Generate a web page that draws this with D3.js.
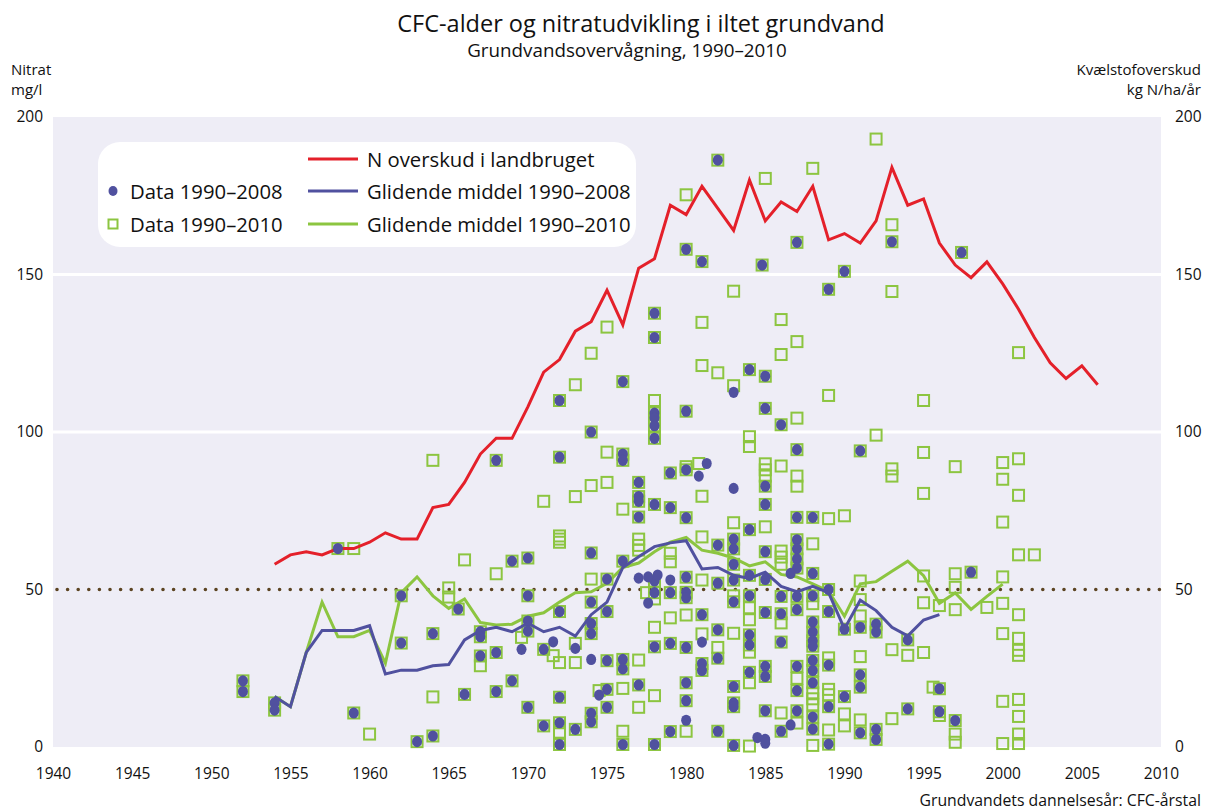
<!DOCTYPE html>
<html>
<head>
<meta charset="utf-8">
<script src="https://cdn.jsdelivr.net/npm/d3@7"></script>
<style>
  body { margin: 0; background: #fff; }
  text { font-family: "Open Sans", "Noto Sans", sans-serif; fill: #111; }
</style>
</head>
<body>
<svg id="chart" width="1215" height="810"></svg>
<script>
// N surplus in agriculture (kg N/ha/yr), one value per year from 1954
var surplusStart = 1954;
var surplus = [58,61,62,61,63,63,65,68,66,66, 76,77,84,93,98,98,108,119,123,132,
               135,145,134,152,155,172,169,178,171,164, 180,167,173,170,178,161,163,160,167,184,
               172,174,160,153,149,154,147,139,130,122, 117,121,115];

// moving averages (mg/l), one value per year from 1954
var maStart = 1954;
var ma2010 = [16,12.8,30,46,35,35,37,26.6,49,54, 48,44,47,39.5,38.7,39,41.5,42.6,46,49,
              49.3,52,57,58.4,62,65,66.5,62.5,61.5,60, 57.5,58.8,54.8,54,51.8,49.5,41.5,51.8,52.5,55.8,
              59,54.4,45.6,48.9,43.7,47.8,51.7];
var ma2008 = [16,12.8,30,37,37,37,38.5,23.2,24.4,24.4, 25.8,26.2,34,37,38,36.6,39.3,36.6,38,35.2,
              42,46,57,60.4,63.6,64.8,65.5,56.5,57,54.5, 53.5,55.5,51,49.3,51,49,37.5,46.6,43.3,38,
              35.3,40.3,42];

// samples found in both data sets [CFC year, nitrate]
var bothPts = [
  [1952,21],[1952,17.6],[1954,14],[1954,11.7],[1958,63],[1959,10.8],
  [1962,48],[1962,33],[1963,1.7],[1964,36],[1964,3.5],[1965.6,43.8],[1966,16.7],
  [1967,36.6],[1967,35],[1967,28.9],[1968,91],[1968,30],[1968,17.6],[1969,59],[1969,21],
  [1970,60],[1970,48],[1970,40],[1970,36.8],[1970,12.6],[1971,31],[1971,6.7],
  [1972,110],[1972,92],[1972,43],[1972,15.8],[1972,7.7],[1972,0.8],[1973,5.6],
  [1974,100],[1974,61.6],[1974,46],[1974,39.2],[1974,36],[1974,10.7],[1974,8],
  [1975,53.3],[1975,43],[1975,27.4],[1975,18.3],[1975,12.6],
  [1976,116],[1976,93],[1976,91],[1976,59],[1976,27.8],[1976,24.8],[1976,0.8],
  [1977,84],[1977,79.5],[1977,78],[1977,73],[1977,19.7],
  [1978,137.7],[1978,130],[1978,106],[1978,104.5],[1978,102],[1978,98],[1978,77],[1978,52.7],[1978,49],[1978,31.8],[1978,0.8],
  [1979,87],[1979,76],[1979,49],[1979,32.9],[1979,4.9],
  [1980,158],[1980,106.6],[1980,88],[1980,72.8],[1980,53.9],[1980,49.1],[1980,47.4],[1980,31.6],[1980,20.4],[1980,14.7],
  [1981,154.1],[1981,42],[1981,26.5],[1981,24.3],
  [1982,186.3],[1982,64.1],[1982,52],[1982,37.2],[1982,28.2],[1982,5],
  [1983,66],[1983,62.9],[1983,58],[1983,53],[1983,46.1],[1983,19.2],[1983,14],[1983,12.8],[1983,0.5],
  [1984,119.8],[1984,69],[1984,54.5],[1984,48],[1984,35.6],[1984,32.4],[1984,23.7],
  [1984.8,153],[1985,117.7],[1985,107.5],[1985,82.8],[1985,77],[1985,62],[1985,53.2],[1985,42.7],[1985,25.6],[1985,22.4],[1985,11.5],
  [1986,102.3],[1986,47.8],[1986,42.3],[1986,33.3],[1986,5],
  [1987,160.2],[1987,94.4],[1987,72.9],[1987,65.8],[1987,62.9],[1987,59.7],[1987,56.8],[1987,47.8],[1987,43.6],[1987,25.6],[1987,17.9],[1987,11.5],
  [1988,72.9],[1988,55.1],[1988,48],[1988,39.7],[1988,36.5],[1988,33.7],[1988,32],[1988,27.5],[1988,24.3],[1988,20.4],[1988,9.5],[1988,5.7],
  [1989,145.3],[1989,50],[1989,43],[1989,26],[1989,12.8],[1989,0.9],
  [1990,151],[1990,37.4],[1990,16],[1991,94],[1991,38],[1991,22.9],[1991,19],[1991,4.5],
  [1992,39],[1992,36.5],[1992,5.6],[1992,2.4],[1993,160.4],[1994,34],[1994,12.1],
  [1996,18.5],[1996,11.2],[1997,8.4],[1997.4,157],[1998,55.5]
];

// samples only in 1990-2008 set (dot without square)
var dotPts = [
  [1969.6,31],[1971.6,33.4],[1973,31.3],[1974,27.8],[1974.5,16.5],[1977,53.6],[1977.6,54],
  [1978.2,54.6],[1977.6,45.7],[1979,53],[1980.8,86],[1980,8.5],[1981.3,90],[1981,33.3],
  [1983,112.6],[1983,82.1],[1984.5,3],[1985,2.4],[1985,1.2],[1986.6,55.1],[1986.6,7]
];

// samples only in 1990-2010 set (square without dot)
var squarePts = [
  [1959,63],[1960,4.1],[1964,91],[1964,15.9],[1965,50.5],[1965,47.6],[1966,59.4],[1967,25.8],[1968,55],
  [1969.6,34.8],[1971,78],[1971.6,29],[1972,67],[1972,66],[1972,65],[1972,26.8],[1972,4.7],
  [1973,115],[1973,79.5],[1973,32.9],[1973,26.8],[1974,125],[1974,83],[1974,53.3],[1974.5,17.9],
  [1975,133.3],[1975,93.6],[1975,84],[1976,75.5],[1976,18.6],[1976,5],
  [1977,66],[1977,64],[1977,62.5],[1977,27.6],[1977,12.6],[1977.5,49],
  [1978,110],[1978,47],[1978,38],[1978,16.3],[1979,61.5],[1979,58.8],[1979,41],
  [1980,175.3],[1980,89],[1980,41.9],[1980,5],[1980.8,90],
  [1981,134.8],[1981,121.1],[1981,79.6],[1981,66.7],[1981,53],[1981,35.9],[1982,118.8],[1982,31.6],
  [1983,144.7],[1983,114.7],[1983,71.2],[1983,48],[1983,36.1],
  [1984,98.5],[1984,95.4],[1984,44.2],[1984,40.4],[1984,30.1],[1984,20.4],[1984,0.3],
  [1985,180.5],[1985,89.9],[1985,88],[1985,86],[1985,69.9],
  [1986,135.7],[1986,124.6],[1986,89.2],[1986,62.2],[1986,60.3],[1986,58],[1986,39.4],[1986,10.8],
  [1987,128.7],[1987,104.4],[1987,86],[1987,82.8],[1987,21.8],[1987,7.6],
  [1988,183.7],[1988,64.5],[1988,45.5],[1988,17.2],[1988,15.3],[1988,13.4],[1988,0.5],
  [1989,111.6],[1989,72.5],[1989,28.3],[1989,18.3],[1989,16.6],[1989,5.4],
  [1990,73.4],[1990,10.5],[1990,6.7],[1991,52.7],[1991,46.8],[1991,41.6],[1991,28.7],[1991,8.6],
  [1992,193],[1992,99],[1993,165.8],[1993,144.6],[1993,88.3],[1993,86],[1993,30.9],[1993,9],[1994,29.1],
  [1995,110],[1995,93.5],[1995,80.5],[1995,54.3],[1995,45.8],[1995,30],[1995.6,19],[1996,44.9],[1996,10],
  [1997,89],[1997,55],[1997,50.7],[1997,43.6],[1997,4.1],[1997,1.5],[1999,44.3],
  [2000,90.3],[2000,85],[2000,71.4],[2000,54],[2000,45.6],[2000,36],[2000,14.5],[2000,1.1],
  [2001,125.2],[2001,91.5],[2001,79.9],[2001,61],[2001,42],[2001,34.5],[2001,30.7],[2001,29.1],[2001,15.1],[2001,9.7],[2001,4.1],[2001,1.1],
  [2002,61]
];

var xTicks = [1940,1945,1950,1955,1960,1965,1970,1975,1980,1985,1990,1995,2000,2005,2010];
var yTicks = [0,50,100,150,200];

(function(){
  var RED = "#e4202a", BLUE = "#50519f", GREEN = "#8cc540", BG = "#eeedf6";

  var svg = d3.select("#chart");
  var pLeft = 53, pRight = 1161, pTop = 117, pBottom = 747;

  var x = d3.scaleLinear().domain([1940, 2010]).range([pLeft, pRight]);
  var y = d3.scaleLinear().domain([0, 200]).range([pBottom, pTop]);

  // titles
  svg.append("text").attr("x", 641).attr("y", 32).attr("text-anchor", "middle")
     .style("font-size", "23.5px").text("CFC-alder og nitratudvikling i iltet grundvand");
  svg.append("text").attr("x", 627).attr("y", 57).attr("text-anchor", "middle")
     .style("font-size", "18.8px").text("Grundvandsovervågning, 1990–2010");

  svg.append("text").attr("x", 11).attr("y", 75).style("font-size", "15px").text("Nitrat");
  svg.append("text").attr("x", 11).attr("y", 95).style("font-size", "15px").text("mg/l");
  svg.append("text").attr("x", 1201).attr("y", 75).attr("text-anchor", "end").style("font-size", "15px").text("Kvælstofoverskud");
  svg.append("text").attr("x", 1201).attr("y", 95).attr("text-anchor", "end").style("font-size", "15px").text("kg N/ha/år");

  // plot background
  svg.append("rect").attr("x", pLeft).attr("y", pTop)
     .attr("width", pRight - pLeft).attr("height", pBottom - pTop).attr("fill", BG);

  // white gridlines at 100 and 150
  svg.selectAll(".grid").data([100, 150]).enter().append("line")
     .attr("x1", pLeft).attr("x2", pRight).attr("y1", d => y(d)).attr("y2", d => y(d))
     .attr("stroke", "#fff").attr("stroke-width", 3);

  // dotted 50 line
  svg.append("line").attr("x1", pLeft + 4).attr("x2", pRight).attr("y1", y(50)).attr("y2", y(50))
     .attr("stroke", "#5c4422").attr("stroke-width", 3.6).attr("stroke-linecap", "round")
     .attr("stroke-dasharray", "0 10.6");

  // axes labels
  var yAxisL = d3.axisLeft(y).tickValues(yTicks).tickSize(0).tickPadding(10);
  var yAxisR = d3.axisRight(y).tickValues(yTicks).tickSize(0).tickPadding(14);
  var xAxis = d3.axisBottom(x).tickValues(xTicks).tickSize(0).tickPadding(21).tickFormat(d3.format("d"));
  [svg.append("g").attr("transform", "translate(" + pLeft + ",0)").call(yAxisL),
   svg.append("g").attr("transform", "translate(" + pRight + ",0)").call(yAxisR),
   svg.append("g").attr("transform", "translate(0," + pBottom + ")").call(xAxis)].forEach(function(g){
    g.select(".domain").remove();
    g.selectAll("text").style("font-size", "15.5px").attr("fill", "#111").style("font-family", "\"Open Sans\", sans-serif");
  });

  svg.append("text").attr("x", 1201).attr("y", 806).attr("text-anchor", "end")
     .style("font-size", "15.8px").text("Grundvandets dannelsesår: CFC-årstal");

  // legend
  var lg = svg.append("g");
  lg.append("rect").attr("x", 98).attr("y", 142).attr("width", 538).attr("height", 105)
    .attr("rx", 22).attr("fill", "#fff");
  var lgFont = "20.3px";
  lg.append("line").attr("x1", 308).attr("x2", 358).attr("y1", 159).attr("y2", 159).attr("stroke", RED).attr("stroke-width", 3);
  lg.append("line").attr("x1", 308).attr("x2", 358).attr("y1", 191).attr("y2", 191).attr("stroke", BLUE).attr("stroke-width", 3);
  lg.append("line").attr("x1", 308).attr("x2", 358).attr("y1", 224).attr("y2", 224).attr("stroke", GREEN).attr("stroke-width", 3);
  lg.append("text").attr("x", 367).attr("y", 167).style("font-size", lgFont).text("N overskud i landbruget");
  lg.append("text").attr("x", 367).attr("y", 199).style("font-size", lgFont).text("Glidende middel 1990–2008");
  lg.append("text").attr("x", 367).attr("y", 232).style("font-size", lgFont).text("Glidende middel 1990–2010");
  lg.append("ellipse").attr("cx", 113).attr("cy", 191).attr("rx", 4.5).attr("ry", 5).attr("fill", BLUE);
  lg.append("rect").attr("x", 108.5).attr("y", 219.5).attr("width", 9).attr("height", 9)
    .attr("fill", "none").attr("stroke", GREEN).attr("stroke-width", 2);
  lg.append("text").attr("x", 130).attr("y", 199).style("font-size", lgFont).text("Data 1990–2008");
  lg.append("text").attr("x", 130).attr("y", 232).style("font-size", lgFont).text("Data 1990–2010");

  // squares (1990-2010 data)
  var squares = bothPts.concat(squarePts);
  svg.append("g").selectAll("rect").data(squares).enter().append("rect")
     .attr("x", d => x(d[0]) - 5.5).attr("y", d => y(d[1]) - 5.5)
     .attr("width", 11).attr("height", 11)
     .attr("fill", "none").attr("stroke", GREEN).attr("stroke-width", 2);

  // lines
  var line = d3.line().x(d => x(d[0])).y(d => y(d[1]));
  function series(start, vals) { return vals.map(function(v, i){ return [start + i, v]; }); }

  svg.append("path").datum(series(surplusStart, surplus)).attr("d", line)
     .attr("fill", "none").attr("stroke", RED).attr("stroke-width", 3);
  svg.append("path").datum(series(maStart, ma2010)).attr("d", line)
     .attr("fill", "none").attr("stroke", GREEN).attr("stroke-width", 3);

  // dots (1990-2008 data)
  var dots = bothPts.concat(dotPts);
  svg.append("g").selectAll("ellipse").data(dots).enter().append("ellipse")
     .attr("cx", d => x(d[0])).attr("cy", d => y(d[1]))
     .attr("rx", 5).attr("ry", 5.6).attr("fill", BLUE);

  svg.append("path").datum(series(maStart, ma2008)).attr("d", line)
     .attr("fill", "none").attr("stroke", BLUE).attr("stroke-width", 3);
})();
</script>
</body>
</html>
